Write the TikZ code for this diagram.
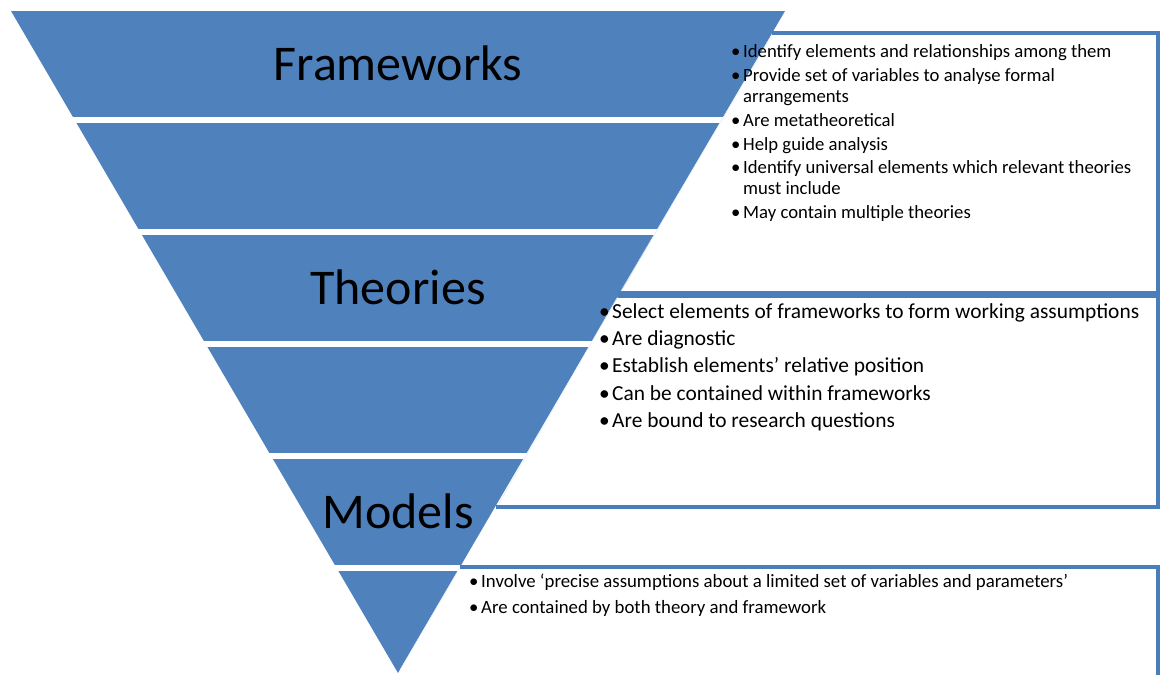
\documentclass[tikz,border=0pt]{standalone}
\usepackage{fontspec}
\setmainfont{Carlito}
\definecolor{tri}{RGB}{79,129,189}
\definecolor{bord}{RGB}{74,126,187}
\tikzset{
  band/.style={fill=tri},
  gapline/.style={white, line width=6pt},
  boxline/.style={bord, line width=4pt, line join=miter},
  edgeline/.style={white!85!tri, line width=0.6pt},
  biglabel/.style={font=\fontsize{50}{60}\selectfont, text=black, inner sep=0pt},
  listA/.style={anchor=north west, inner sep=0pt, font=\fontsize{18.7}{21}\selectfont},
  listB/.style={anchor=north west, inner sep=0pt, font=\fontsize{21.4}{27.3}\selectfont},
  listC/.style={anchor=north west, inner sep=0pt, font=\fontsize{18.8}{26}\selectfont},
}
\begin{document}
\begin{tikzpicture}[x=1pt,y=-1pt]
\useasboundingbox (0,0) rectangle (1162,675);
% inverted triangle
\fill[band] (11,11) -- (785,11) -- (398,673) -- cycle;
% white gaps between bands
\draw[gapline] (73,120) -- (723,120);
\draw[gapline] (138,232) -- (658,232);
\draw[gapline] (203,344) -- (593,344);
\draw[gapline] (269,456) -- (527,456);
\draw[gapline] (334,568) -- (462,568);
% boxes
\draw[boxline] (772,33) -- (1158,33) -- (1158,293) -- (619,293);
\draw[edgeline] (772,35) -- (621,291);
\draw[boxline] (618,296) -- (1158,296) -- (1158,507) -- (496,507);
\draw[edgeline] (617,298) -- (498,505);
\draw[boxline] (460,567) -- (1158,567) -- (1158,675);
\draw[edgeline] (459,569) -- (400,670);
% labels
\node[biglabel] (fw) at (398,63) {Frameworks};
\node[biglabel] (th) at (398,287) {Theories};
\node[biglabel] (md) at (398,511) {Models};
% lists
\node[listA] (l1) at (731,43) {%
\begin{tabular}{@{}p{12pt}@{}l@{}}
• & Identify elements and relationships among them\\[2.7pt]
• & Provide set of variables to analyse formal\\
  & arrangements\\[2.7pt]
• & Are metatheoretical\\[2.7pt]
• & Help guide analysis\\[2.7pt]
• & Identify universal elements which relevant theories\\
  & must include\\[2.7pt]
• & May contain multiple theories
\end{tabular}};
\node[listB] (l2) at (599,299) {%
\begin{tabular}{@{}p{13pt}@{}l@{}}
• & Select elements of frameworks to form working assumptions\\
• & Are diagnostic\\
• & Establish elements’ relative position\\
• & Can be contained within frameworks\\
• & Are bound to research questions
\end{tabular}};
\node[listC] (l3) at (469,569) {%
\begin{tabular}{@{}p{12pt}@{}l@{}}
• & Involve ‘precise assumptions about a limited set of variables and parameters’\\
• & Are contained by both theory and framework
\end{tabular}};
\end{tikzpicture}
\end{document}
